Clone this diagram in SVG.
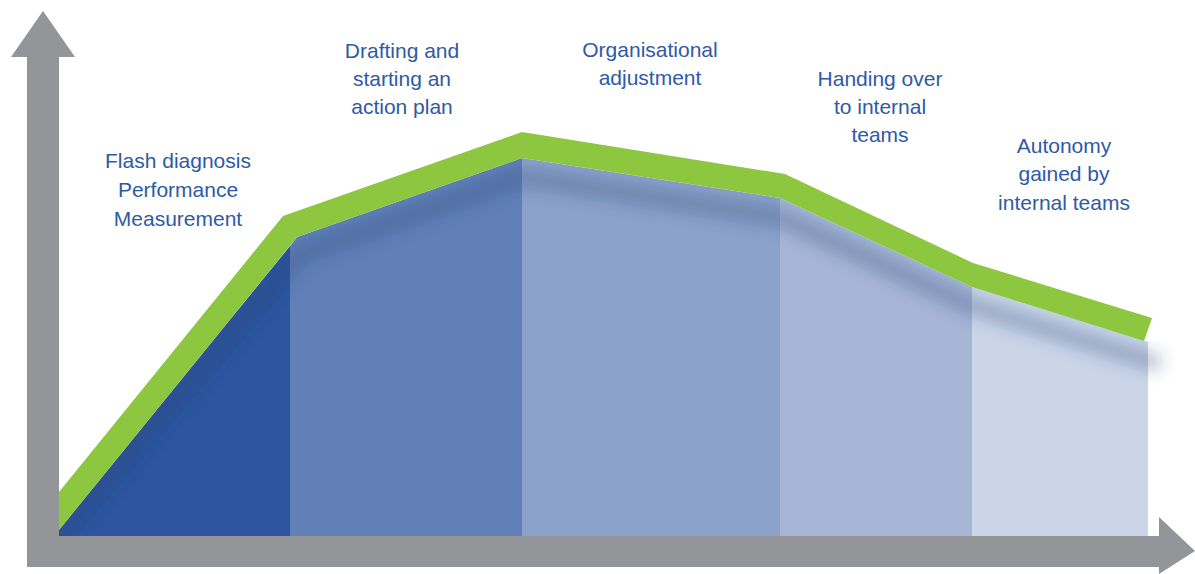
<svg xmlns="http://www.w3.org/2000/svg" width="1195" height="574" viewBox="0 0 1195 574">
  <defs>
    <style>
      .lbl { font-family: "Liberation Sans", Arial, sans-serif; font-size: 21px; fill: #2e5aa6; text-anchor: middle; }
      .axis { fill: #939598; }
      .band { fill: #8dc63f; }
    </style>
    <filter id="blur" x="-10%" y="-50%" width="120%" height="200%">
      <feGaussianBlur stdDeviation="8"/>
    </filter>
    <clipPath id="fillClip">
      <polygon points="59,530 297,237 522,158 780,198 972,287 1144,341 1180,341 1180,536 59,536"/>
    </clipPath>
  </defs>

  <g id="area">
    <polygon fill="#2d55a0" points="59,530 290,246 290,536 59,536"/>
    <polygon fill="#6180b8" points="290,246 297,237 522,158 522,536 290,536"/>
    <polygon fill="#8ca1ca" points="522,158 780,198 780,536 522,536"/>
    <polygon fill="#a6b5d6" points="780,198 972,287 972,536 780,536"/>
    <polygon fill="#cad5e8" points="972,287 1148,342 1148,536 972,536"/>
    <path clip-path="url(#fillClip)" filter="url(#blur)" fill="none" stroke="#223a6e" stroke-opacity="0.32" stroke-width="16" d="M40,560 L300,254 L522,177 L780,217 L972,306 L1160,364"/>
  </g>

  <g id="trend-line">
    <polygon class="band" points="59,492 283,216 522,132 785,174 973,263 1152,318 1144,341 972,287 780,198 522,158 297,237 59,530"/>
  </g>

  <g id="axes">
    <polygon id="y-axis" class="axis" points="43,11 75,57 59,57 59,536 27,536 27,57 11,57"/>
    <polygon id="x-axis" class="axis" points="27,536 1159,536 1159,517 1195,551 1159,574 1159,567 27,567"/>
  </g>

  <g id="stage1">
    <text class="lbl" x="178" y="168">Flash diagnosis</text>
    <text class="lbl" x="178" y="197">Performance</text>
    <text class="lbl" x="178" y="226">Measurement</text>
  </g>
  <g id="stage2">
    <text class="lbl" x="402" y="58">Drafting and</text>
    <text class="lbl" x="402" y="86">starting an</text>
    <text class="lbl" x="402" y="114">action plan</text>
  </g>
  <g id="stage3">
    <text class="lbl" x="650" y="57">Organisational</text>
    <text class="lbl" x="650" y="85">adjustment</text>
  </g>
  <g id="stage4">
    <text class="lbl" x="880" y="86">Handing over</text>
    <text class="lbl" x="880" y="114">to internal</text>
    <text class="lbl" x="880" y="142">teams</text>
  </g>
  <g id="stage5">
    <text class="lbl" x="1064" y="153">Autonomy</text>
    <text class="lbl" x="1064" y="181">gained by</text>
    <text class="lbl" x="1064" y="210">internal teams</text>
  </g>
</svg>
